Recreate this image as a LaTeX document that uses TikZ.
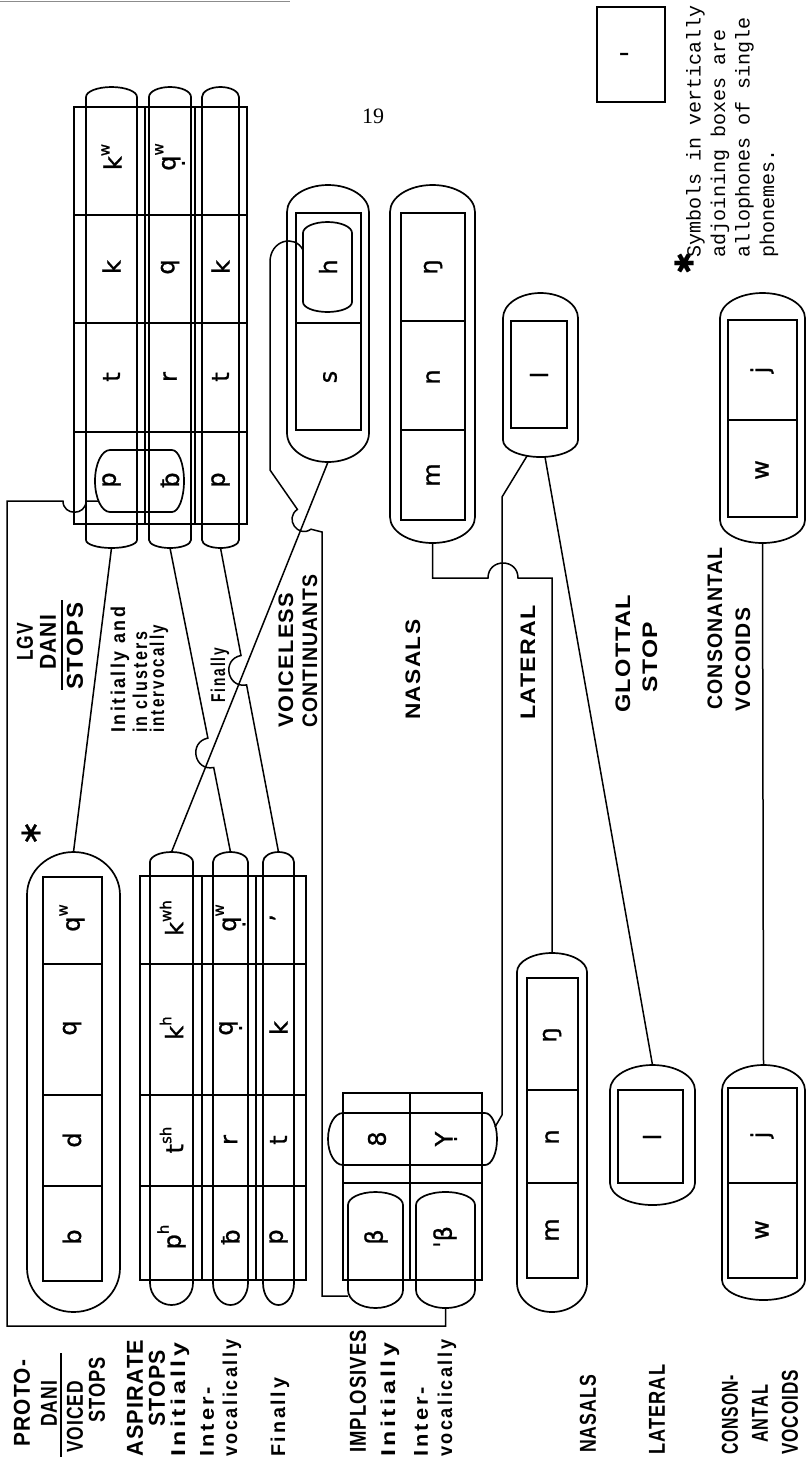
\documentclass[tikz,border=0pt]{standalone}
\usepackage{fontspec}
\usepackage{graphicx}
\newfontfamily\labf[LetterSpace=6]{Liberation Sans}
\newfontfamily\lowf[LetterSpace=14]{Liberation Sans}
\newfontfamily\cellf[FakeBold=1]{DejaVu Sans}
\newfontfamily\monof{Liberation Mono}
\newfontfamily\serf{Liberation Serif}
\newcommand\fitw[2]{\resizebox{#1pt}{\height}{#2}}
\newcommand\hi[1]{\raisebox{0.5em}{\fontsize{15}{15}\selectfont #1}}
% vertical capsule: name, x1, x2, yTopExtreme, yTopStraight, yBotStraight, yBotExtreme
\newcommand\capsl[7]{%
  \pgfmathsetmacro\cxm{(#2+#3)/2}%
  \pgfmathsetmacro\crx{(#3-#2)/2*0.552}%
  \pgfmathsetmacro\cta{#5-0.552*(#5-#4)}%
  \pgfmathsetmacro\cba{#6+0.552*(#7-#6)}%
  \draw[capline] (#2,#5) .. controls (#2,\cta) and ({\cxm-\crx},#4) .. (\cxm,#4)
     .. controls ({\cxm+\crx},#4) and (#3,\cta) .. (#3,#5) -- (#3,#6)
     .. controls (#3,\cba) and ({\cxm+\crx},#7) .. (\cxm,#7)
     .. controls ({\cxm-\crx},#7) and (#2,\cba) .. (#2,#6) -- cycle;
  \coordinate (#1-t) at (\cxm,#4);
  \coordinate (#1-b) at (\cxm,#7);
}
% horizontal capsule: name, xLe, xLs, xRs, xRe, yT, yB
\newcommand\hcaps[7]{%
  \pgfmathsetmacro\hym{(#6+#7)/2}%
  \pgfmathsetmacro\hry{(#7-#6)/2*0.552}%
  \pgfmathsetmacro\hra{#4+0.552*(#5-#4)}%
  \pgfmathsetmacro\hla{#3-0.552*(#3-#2)}%
  \draw[capline] (#3,#6) -- (#4,#6) .. controls (\hra,#6) and (#5,{\hym-\hry}) .. (#5,\hym)
     .. controls (#5,{\hym+\hry}) and (\hra,#7) .. (#4,#7) -- (#3,#7)
     .. controls (\hla,#7) and (#2,{\hym+\hry}) .. (#2,\hym)
     .. controls (#2,{\hym-\hry}) and (\hla,#6) .. (#3,#6) -- cycle;
  \coordinate (#1-w) at (#2,\hym);
  \coordinate (#1-e) at (#5,\hym);
}
\tikzset{
  bx/.style={line width=1.5pt},
  capline/.style={line width=1.7pt},
  conn/.style={line width=1.5pt},
  lab/.style={rotate=90, inner sep=0pt, anchor=west, font=\labf\bfseries\fontsize{23}{23}\selectfont},
  labm/.style={lab, font=\labf\bfseries\fontsize{21}{21}\selectfont},
  lowlab/.style={lab, font=\lowf\bfseries\fontsize{20}{20}\selectfont},
  cell/.style={rotate=90, inner sep=0pt, font=\cellf\fontsize{24}{24}\selectfont},
}
\begin{document}
\begin{tikzpicture}[x=1pt,y=-1pt]
\fill[white] (0,0) rectangle (810,1462);
\useasboundingbox (0,0) rectangle (810,1462);
\draw[black!45, line width=1pt] (0,1) -- (290,1);

% ================= PROTO-DANI =================
% voiced stops
\capsl{vs}{27}{120}{852}{895}{1268}{1312}
\draw[bx] (43,877) rectangle (102,1281);
\foreach \yy in {964,1095,1186} \draw[bx] (43,\yy) -- (102,\yy);
\node[cell] (vsb) at (72,1237) {b};
\node[cell] (vsd) at (72,1140) {d};
\node[cell] (vsq) at (72,1028) {q};
\node[cell] (vsqw) at (72,918) {q\hi{w}};
\node[rotate=90, font=\cellf\fontsize{30}{30}\selectfont] (ast1) at (31,833) {∗};

% aspirate stops table
\draw[bx] (140,876) rectangle (306,1280);
\foreach \yy in {964,1095,1186} \draw[bx] (140,\yy) -- (306,\yy);
\draw[bx] (202,876) -- (202,1280);
\draw[bx] (256,876) -- (256,1280);
\capsl{as1}{150}{193}{852}{862}{1283}{1305}
\capsl{as2}{213}{248}{852}{862}{1283}{1305}
\capsl{as3}{263}{294}{852}{862}{1283}{1305}
\node[cell] (a11) at (171.5,1237) {p\hi{h}};
\node[cell] (a12) at (171.5,1140) {t\hi{sh}};
\node[cell] (a13) at (171.5,1028) {k\hi{h}};
\node[cell] (a14) at (171.5,918) {k\hi{wh}};
\node[cell] (a21) at (230.5,1237) {ƀ};
\node[cell] (a22) at (230.5,1140) {r};
\node[cell] (a23) at (230.5,1028) {q̣};
\node[cell] (a24) at (230.5,918) {q̣\hi{w}};
\node[cell] (a31) at (278.5,1237) {p};
\node[cell] (a32) at (278.5,1140) {t};
\node[cell] (a33) at (278.5,1028) {k};
\node[cell] (a34) at (278.5,918) {ʼ};

% implosives
\draw[bx] (343,1093) rectangle (482,1280);
\draw[bx] (343,1183) -- (482,1183);
\draw[bx] (410,1093) -- (410,1280);
\hcaps{io}{328}{343}{485}{497}{1113}{1165}
\capsl{im1}{348}{403}{1192}{1205}{1290}{1308}
\capsl{im2}{416}{475}{1192}{1205}{1290}{1308}
\coordinate (im1-w) at (348,1296);
\coordinate (io-ne) at (495,1127);
\node[cell] (i11) at (377,1139) {8};
\node[cell] (i21) at (446,1139) {Ỵ};
\node[cell] (i12) at (376,1237) {β};
\node[cell] (i22) at (445,1237) {ˈβ};

% nasals
\capsl{nP}{517}{587}{953}{972}{1283}{1312}
\draw[bx] (527,978) rectangle (578,1278);
\foreach \yy in {1090,1183} \draw[bx] (527,\yy) -- (578,\yy);
\node[cell] (np1) at (552,1230) {m};
\node[cell] (np2) at (552,1137) {n};
\node[cell] (np3) at (552,1035) {ŋ};

% lateral
\capsl{lP}{610}{695}{1065}{1090}{1183}{1205}
\draw[bx] (618,1090) rectangle (683,1183);
\node[cell] (lp1) at (652,1137) {l};

% consonantal vocoids
\capsl{vP}{722}{805}{1065}{1090}{1280}{1300}
\draw[bx] (728,1088) rectangle (797,1278);
\draw[bx] (728,1183) -- (797,1183);
\node[cell] (vp1) at (762,1230) {w};
\node[cell] (vp2) at (762,1135) {j};

% proto labels
\node[lab] (pl1) at (22,1447) {\fitw{87}{PROTO-}};
\node[lab] (pl2) at (49,1427) {\fitw{46}{DANI}};
\draw[bx] (61,1353) -- (61,1457);
\node[lab] (pl3) at (75,1453) {\fitw{72}{VOICED}};
\node[lab] (pl4) at (97,1423) {\fitw{66}{STOPS}};
\node[lab] (pl5) at (135,1457) {\fitw{117}{ASPIRATE}};
\node[lab] (pl6) at (157,1427) {\fitw{77}{STOPS}};
\node[lowlab] (pl7) at (180,1457) {\fitw{114}{Initially}};
\node[lowlab] (pl8) at (207,1457) {\fitw{70}{Inter-}};
\node[lowlab] (pl9) at (232,1457) {\fitw{117}{vocalically}};
\node[lowlab] (pl10) at (280,1457) {\fitw{79}{Finally}};
\node[lab] (pl11) at (358,1453) {\fitw{123}{IMPLOSIVES}};
\node[lowlab] (pl12) at (390,1457) {\fitw{114}{Initially}};
\node[lowlab] (pl13) at (421,1457) {\fitw{70}{Inter-}};
\node[lowlab] (pl14) at (447,1457) {\fitw{117}{vocalically}};
\node[lab] (pl15) at (588,1453) {\fitw{78}{NASALS}};
\node[lab] (pl16) at (657,1455) {\fitw{90}{LATERAL}};
\node[lab] (pl17) at (730,1455) {\fitw{80}{CONSON-}};
\node[lab] (pl18) at (760,1443) {\fitw{58}{ANTAL}};
\node[lab] (pl19) at (790,1455) {\fitw{85}{VOCOIDS}};

% ================= LGV DANI =================
\draw[bx] (74,107) rectangle (247,524);
\foreach \yy in {215,323,432} \draw[bx] (74,\yy) -- (247,\yy);
\draw[bx] (145,107) -- (145,524);
\draw[bx] (195,107) -- (195,524);
\capsl{L1}{86}{137}{87}{97}{540}{548}
\capsl{L2}{149}{191}{87}{97}{540}{548}
\capsl{L3}{202}{239}{87}{97}{540}{548}
\hcaps{po}{95}{110}{172}{184}{450}{512}
\coordinate (po-in) at (98,501);
\node[cell] (g11) at (111.5,480) {p};
\node[cell] (g12) at (111.5,377) {t};
\node[cell] (g13) at (111.5,267) {k};
\node[cell] (g14) at (111.5,157) {k\hi{w}};
\node[cell] (g21) at (170,480) {ƀ};
\node[cell] (g22) at (170,377) {r};
\node[cell] (g23) at (170,267) {q};
\node[cell] (g24) at (170,157) {q̣\hi{w}};
\node[cell] (g31) at (220.5,480) {p};
\node[cell] (g32) at (220.5,377) {t};
\node[cell] (g33) at (220.5,267) {k};

% voiceless continuants
\capsl{sh}{287}{369}{185}{212}{433}{462}
\draw[bx] (296,213) rectangle (361,430);
\draw[bx] (296,323) -- (361,323);
\capsl{ho}{303}{352}{222}{233}{302}{312}
\coordinate (ho-in) at (303,250);
\node[cell] (gs) at (330,377) {s};
\node[cell] (gh) at (328,267) {h};

% nasals
\capsl{nL}{390}{475}{185}{212}{517}{543}
\draw[bx] (401,213) rectangle (465,520);
\foreach \yy in {321,430} \draw[bx] (401,\yy) -- (465,\yy);
\node[cell] (gn1) at (433,475) {m};
\node[cell] (gn2) at (433,377) {n};
\node[cell] (gn3) at (433,267) {ŋ};

% lateral
\capsl{lL}{503}{578}{293}{318}{440}{457}
\draw[bx] (511,321) rectangle (567,428);
\coordinate (lL-bl) at (527,456);
\coordinate (lL-br) at (545,457);
\node[cell] (gl) at (539,375) {l};

% consonantal vocoids
\capsl{vL}{720}{805}{293}{318}{520}{543}
\draw[bx] (728,320) rectangle (797,517);
\draw[bx] (728,420) -- (797,420);
\node[cell] (gw) at (762,470) {w};
\node[cell] (gj) at (762,370) {j};

% glottal stop box
\draw[bx] (597,7) rectangle (665,102);
\node[rotate=90, inner sep=0pt, font=\cellf\fontsize{28}{28}\selectfont] (gq) at (631,54) {ˈ};

% LGV labels
\node[lab] (ll1) at (25,661) {\fitw{38}{LGV}};
\node[lab] (ll2) at (48,670) {\fitw{55}{DANI}};
\draw[bx] (62,600) -- (62,690);
\node[lab] (ll3) at (75,690) {\fitw{87}{STOPS}};
\node[lowlab] (ll4) at (120,733) {\fitw{126}{Initially and}};
\node[lowlab] (ll5) at (140,733) {\fitw{101}{in clusters}};
\node[lowlab] (ll6) at (159,733) {\fitw{108}{intervocally}};
\node[lowlab] (ll7) at (220,703) {\fitw{55}{Finally}};
\node[labm] (ll8) at (286,728) {\fitw{135}{VOICELESS}};
\node[labm] (ll9) at (310,728) {\fitw{153}{CONTINUANTS}};
\node[labm] (ll10) at (413,720) {\fitw{100}{NASALS}};
\node[labm] (ll11) at (528,720) {\fitw{115}{LATERAL}};
\node[labm] (ll12) at (623,713) {\fitw{118}{GLOTTAL}};
\node[labm] (ll13) at (650,693) {\fitw{71}{STOP}};
\node[labm] (ll14) at (715,710) {\fitw{162}{CONSONANTAL}};
\node[labm] (ll15) at (743,712) {\fitw{104}{VOCOIDS}};

% page number and footnote
\node[font=\serf\fontsize{22}{22}\selectfont] (pg) at (373,116) {19};
\node[rotate=90, font=\cellf\bfseries\fontsize{26}{26}\selectfont] (ast2) at (684,263) {✱};
\node[rotate=90, anchor=north west, inner sep=0pt, align=left,
      font=\monof\fontsize{20}{24.5}\selectfont] (fn) at (686,258)
      {Symbols in vertically\\adjoining boxes are\\allophones of single\\phonemes.};

% ================= CONNECTORS =================
\draw[conn] (vs-t) -- (L1-b);
\draw[conn] (as1-t) -- (sh-b);
\draw[conn] (as2-t) -- (213.7,767.5) .. controls (194.1,771.4) and (188.3,742.0) .. (207.9,738.1) -- (L2-b);
\draw[conn] (as3-t) -- (246.6,684.9) .. controls (227.0,688.6) and (221.4,659.2) .. (241.0,655.5) -- (L3-b);
\draw[conn] (im1-w) -- (322,1296) -- (322,532) -- (311.0,529.2)
   .. controls (297.8,538.3) and (284.2,518.5) .. (297.4,509.4) -- (270,470) -- (270,262)
   .. controls (270,240) and (295,234) .. (ho-in);
\draw[conn] (im2-b) -- (445.5,1326) -- (7,1326) -- (7,501) -- (63,501)
   .. controls (63,516) and (86,516) .. (86,501) -- (po-in);
\draw[conn] (nP-t) -- (552,578) -- (518,578) .. controls (518,558) and (488,558) .. (488,578) -- (432.5,578) -- (nL-b);
\draw[conn] (io-ne) -- (502,1115) -- (502,497) -- (lL-bl);
\draw[conn] (lP-t) -- (lL-br);
\draw[conn] (vP-t) -- (vL-b);
\end{tikzpicture}
\end{document}
